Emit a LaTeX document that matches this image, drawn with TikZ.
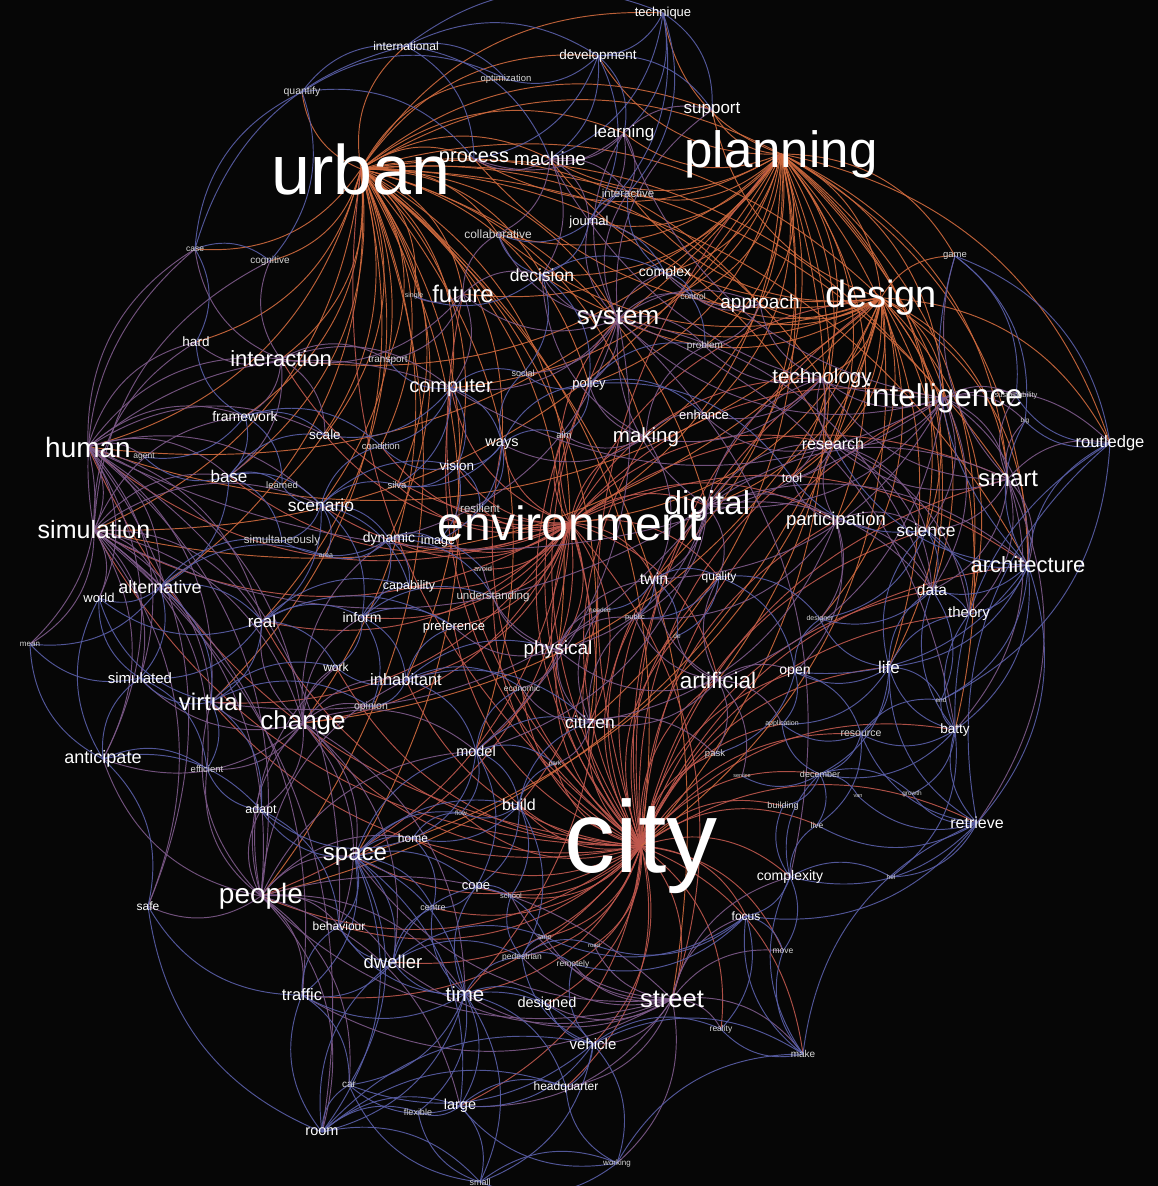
\documentclass[tikz,border=0pt]{standalone}
\usepackage{fontspec}
\setmainfont{Liberation Sans}

\definecolor{canvas}{HTML}{060606}
\definecolor{linkblue}{HTML}{5A5FA8}
\definecolor{linkviolet}{HTML}{7E5A8A}
\definecolor{linkred}{HTML}{C0584E}
\definecolor{linkorange}{HTML}{D06A3E}
\definecolor{wordgrey}{HTML}{D6D6D6}

\pgfdeclarelayer{links}
\pgfsetlayers{links,main}

\begin{document}
\begin{tikzpicture}[x=1pt, y=-1pt,
    kw/.style={font=\fontsize{#1}{#1}\selectfont, text=white, inner sep=0pt},
    kwdim/.style={font=\fontsize{#1}{#1}\selectfont, text=wordgrey, inner sep=0pt},
    lk/.style={line width=0.95pt, opacity=0.9, draw=#1},
]

\useasboundingbox (0,0) rectangle (1158,1186);
\begin{pgfonlayer}{links}
\fill[canvas] (0,0) rectangle (1158,1186);
\end{pgfonlayer}

% Top
\node[kw=13] (technique) at (663,13) {technique};
\node[kw=12] (international) at (406,46) {international};
\node[kw=13.5] (development) at (598,56) {development};
\node[kwdim=9.5] (optimization) at (506,79) {optimization};
\node[kwdim=10.5] (quantify) at (302,92) {quantify};
\node[kw=17] (support) at (712,110) {support};
\node[kw=17] (learning) at (624,133) {learning};
\node[kw=70] (urban) at (361,169) {urban};
\node[kw=20] (process) at (474,159) {process};
\node[kw=19] (machine) at (550,159) {machine};
\node[kw=51] (planning) at (781,154) {planning};
\node[kwdim=11.5] (interactive) at (628,193) {interactive};
\node[kw=13] (journal) at (589,222) {journal};
\node[kwdim=12] (collaborative) at (498,234) {collaborative};
\node[kwdim=8.5] (case) at (195,249) {case};
\node[kwdim=10] (cognitive) at (270,261) {cognitive};
\node[kwdim=9.5] (game) at (955,256) {game};

% Upper middle
\node[kw=17.5] (decision) at (542,275) {decision};
\node[kw=14] (complex) at (665,273) {complex};
\node[kwdim=7] (single) at (414,296) {single};
\node[kw=24] (future) at (463,294) {future};
\node[kwdim=8.5] (control) at (693,296) {control};
\node[kw=19] (approach) at (760,304) {approach};
\node[kw=38] (design) at (881,298) {design};
\node[kw=26] (system) at (618,319) {system};
\node[kw=13.5] (hard) at (196,342) {hard};
\node[kwdim=10] (problem) at (705,346) {problem};
\node[kw=22] (interaction) at (281,359) {interaction};
\node[kwdim=10] (transport) at (388,360) {transport};
\node[kwdim=9] (social) at (523,373) {social};
\node[kw=20.5] (technology) at (822,378) {technology};
\node[kw=20] (computer) at (451,388) {computer};
\node[kw=13] (policy) at (589,384) {policy};
\node[kw=31.5] (intelligence) at (944,398) {intelligence};
\node[kwdim=7.5] (sustainability) at (1016,396) {sustainability};
\node[kw=14] (framework) at (245,416) {framework};
\node[kw=13] (enhance) at (704,415) {enhance};
\node[kwdim=6.5] (big) at (1025,421) {big};

% Middle
\node[kw=28] (human) at (88,447) {human};
\node[kwdim=8.5] (agent) at (144,457) {agent};
\node[kw=13.5] (scale) at (325,435) {scale};
\node[kwdim=9.5] (condition) at (381,446) {condition};
\node[kw=14.5] (ways) at (502,444) {ways};
\node[kwdim=9.5] (aim) at (564,435) {aim};
\node[kw=20.5] (making) at (646,437) {making};
\node[kw=16] (research) at (833,444) {research};
\node[kw=16.5] (routledge) at (1110,443) {routledge};
\node[kw=17] (base) at (229,476) {base};
\node[kwdim=9.5] (learned) at (282,485) {learned};
\node[kwdim=9.5] (silva) at (397,485) {silva};
\node[kw=13.5] (vision) at (457,466) {vision};
\node[kw=12.5] (tool) at (792,478) {tool};
\node[kw=24] (smart) at (1008,479) {smart};
\node[kw=17.5] (scenario) at (321,505) {scenario};
\node[kwdim=11.5] (resilient) at (480,508) {resilient};
\node[kw=48] (environment) at (570,523) {environment};
\node[kw=33] (digital) at (707,506) {digital};
\node[kw=18.5] (participation) at (836,521) {participation};
\node[kw=17.5] (science) at (926,530) {science};
\node[kw=25] (simulation) at (94,530) {simulation};
\node[kwdim=11.5] (simultaneously) at (282,541) {simultaneously};
\node[kw=14] (dynamic) at (389,539) {dynamic};
\node[kw=12.5] (image) at (438,541) {image};
\node[kwdim=7] (area) at (326,556) {area};
\node[kw=22] (architecture) at (1028,565) {architecture};
\node[kwdim=7.5] (avoid) at (483,569) {avoid};
\node[kw=16] (twin) at (654,579) {twin};
\node[kw=12] (quality) at (719,577) {quality};
\node[kw=18] (alternative) at (160,587) {alternative};
\node[kw=13] (world) at (99,598) {world};
\node[kw=12.5] (capability) at (409,586) {capability};
\node[kwdim=11.5] (understanding) at (493,597) {understanding};
\node[kw=15.5] (data) at (932,590) {data};
\node[kwdim=6.5] (needed) at (600,610) {needed};
\node[kwdim=7.5] (public) at (635,618) {public};
\node[kwdim=7] (designer) at (820,619) {designer};
\node[kw=15] (theory) at (969,614) {theory};
\node[kw=17] (real) at (262,621) {real};
\node[kw=14] (inform) at (362,617) {inform};
\node[kw=13] (preference) at (454,627) {preference};
\node[kwdim=6.5] (de) at (677,636) {de};
\node[kwdim=8] (mean) at (30,644) {mean};
\node[kw=19] (physical) at (558,650) {physical};

% Lower middle
\node[kw=12] (work) at (336,667) {work};
\node[kw=15] (simulated) at (140,678) {simulated};
\node[kw=16.5] (inhabitant) at (406,680) {inhabitant};
\node[kw=14] (open) at (795,672) {open};
\node[kw=17] (life) at (889,667) {life};
\node[kw=22.5] (artificial) at (718,680) {artificial};
\node[kwdim=8.5] (economic) at (522,688) {economic};
\node[kw=24] (virtual) at (211,702) {virtual};
\node[kwdim=6.5] (end) at (941,700) {end};
\node[kwdim=10.5] (opinion) at (371,707) {opinion};
\node[kw=26] (change) at (303,723) {change};
\node[kw=17.5] (citizen) at (590,722) {citizen};
\node[kwdim=7] (application) at (782,724) {application};
\node[kwdim=10.5] (resource) at (861,734) {resource};
\node[kw=13.5] (batty) at (955,730) {batty};
\node[kw=14.5] (model) at (476,751) {model};
\node[kw=18] (anticipate) at (103,759) {anticipate};
\node[kwdim=9.5] (efficient) at (207,769) {efficient};
\node[kwdim=9.5] (pask) at (715,754) {pask};
\node[kwdim=6.5] (park) at (555,764) {park};
\node[kwdim=5.5] (service) at (742,776) {service};
\node[kwdim=9] (december) at (820,774) {december};
\node[kwdim=5.5] (van) at (858,796) {van};
\node[kwdim=6.5] (growth) at (912,794) {growth};
\node[kw=12.5] (adapt) at (261,810) {adapt};
\node[kw=16] (build) at (519,805) {build};
\node[kwdim=6.5] (flow) at (461,813) {flow};
\node[kwdim=9] (building) at (783,806) {building};
\node[kwdim=8.5] (live) at (817,825) {live};
\node[kw=16] (retrieve) at (977,823) {retrieve};
\node[kw=102] (city) at (641,846) {city};

% Bottom
\node[kw=12] (home) at (413,838) {home};
\node[kw=24] (space) at (355,857) {space};
\node[kw=14] (complexity) at (790,877) {complexity};
\node[kwdim=6.5] (hel) at (891,877) {hel};
\node[kw=13] (cope) at (476,887) {cope};
\node[kwdim=7.5] (school) at (511,896) {school};
\node[kw=28] (people) at (261,896) {people};
\node[kw=12] (safe) at (148,906) {safe};
\node[kwdim=9] (centre) at (433,908) {centre};
\node[kw=12] (focus) at (746,916) {focus};
\node[kw=12] (behaviour) at (339,926) {behaviour};
\node[kwdim=7] (lane) at (545,937) {lane};
\node[kwdim=6] (road) at (594,945) {road};
\node[kwdim=8.5] (move) at (783,951) {move};
\node[kwdim=8.5] (pedestrian) at (522,957) {pedestrian};
\node[kw=18.5] (dweller) at (393,962) {dweller};
\node[kwdim=8.5] (remotely) at (573,964) {remotely};
\node[kw=16.5] (traffic) at (302,995) {traffic};
\node[kw=20.5] (time) at (465,994) {time};
\node[kw=14.5] (designed) at (547,1004) {designed};
\node[kw=25.5] (street) at (672,999) {street};
\node[kwdim=8.5] (reality) at (721,1029) {reality};
\node[kw=15] (vehicle) at (593,1044) {vehicle};
\node[kwdim=10] (make) at (803,1054) {make};
\node[kwdim=10] (car) at (349,1085) {car};
\node[kw=12] (headquarter) at (566,1087) {headquarter};
\node[kwdim=9] (flexible) at (418,1112) {flexible};
\node[kw=14.5] (large) at (460,1106) {large};
\node[kw=14.5] (room) at (322,1132) {room};
\node[kwdim=8] (working) at (617,1163) {working};
\node[kwdim=9] (small) at (480,1182) {small};

% Links
\begin{pgfonlayer}{links}
\foreach \w in {international,quantify,optimization,process,machine,development,technique,%
learning,support,planning,case,cognitive,hard,interaction,collaborative,future,decision,%
system,computer,transport,single,framework,scale,base,human,simulation,environment,city,%
design,digital,intelligence,smart,people,change,space,virtual,real,scenario,ways,vision,%
making,research,architecture,technology,physical,citizen,inhabitant,street,dynamic,%
condition,learned,silva,alternative,model,policy,approach}
  \draw[lk=linkorange] (urban.center) to[bend left=30] (\w.center);
\foreach \w in {technique,development,support,learning,machine,process,interactive,journal,%
complex,approach,design,system,decision,future,intelligence,technology,research,smart,%
routledge,game,architecture,science,participation,digital,environment,city,tool,enhance,%
making,policy,problem,control,computer,interaction,data,theory,citizen,artificial,%
collaborative,human,simulation,batty,life,twin}
  \draw[lk=linkorange] (planning.center) to[bend left=30] (\w.center);
\foreach \w in {urban,planning,environment,digital,design,intelligence,smart,architecture,%
system,future,human,simulation,people,change,space,street,time,dweller,traffic,vehicle,%
build,model,citizen,physical,artificial,twin,quality,complexity,focus,move,reality,make,%
retrieve,building,live,december,application,resource,batty,life,open,pask,park,economic,%
flow,home,cope,school,centre,lane,road,pedestrian,remotely,designed,headquarter,large,%
behaviour,inhabitant,preference,understanding,public,needed,de,data,theory,research,%
participation,science,technology,making,ways,aim,policy,computer,virtual,real,work}
  \draw[lk=linkred] (city.center) to[bend left=30] (\w.center);
\foreach \w in {digital,design,system,human,simulation,interaction,computer,making,vision,%
ways,aim,resilient,image,dynamic,scenario,avoid,capability,understanding,twin,quality,%
physical,citizen,artificial,people,change,virtual,real,inform,preference,inhabitant,model,%
build,space,time,street,participation,research,smart,intelligence,technology,architecture,%
base,scale,condition,silva}
  \draw[lk=linkred] (environment.center) to[bend left=30] (\w.center);
\foreach \w in {game,approach,technology,intelligence,research,smart,routledge,architecture,%
science,participation,digital,city,environment,system,complex,control,process,machine,%
support,data,theory,life,tool,designer,people,space,change,human,simulation,collaborative,%
interactive,decision}
  \draw[lk=linkorange] (design.center) to[bend left=30] (\w.center);
\foreach \w in {artificial,smart,routledge,sustainability,big,architecture,science,data,%
technology,research,machine,learning,system,computer,human,twin,digital}
  \draw[lk=linkviolet] (intelligence.center) to[bend left=30] (\w.center);
\foreach \w in {twin,smart,technology,architecture,participation,physical,quality,model,%
data,system,virtual,simulation,tool,research,public}
  \draw[lk=linkviolet] (digital.center) to[bend left=30] (\w.center);
\foreach \w in {future,decision,complex,control,problem,policy,social,computer,approach,%
collaborative,journal,interactive,learning,support,model,dynamic,complexity,data,batty}
  \draw[lk=linkviolet] (system.center) to[bend left=30] (\w.center);
\foreach \w in {routledge,architecture,science,data,technology,game,big,sustainability,%
retrieve,batty,theory,research}
  \draw[lk=linkviolet] (smart.center) to[bend left=30] (\w.center);
\foreach \w in {routledge,theory,data,science,retrieve,batty,life,open,research,end,game,big}
  \draw[lk=linkblue] (architecture.center) to[bend left=30] (\w.center);
\foreach \w in {simulation,agent,framework,hard,case,interaction,base,world,alternative,%
mean,anticipate,simulated,virtual,change,people,behaviour,safe,computer,scale,real,scenario}
  \draw[lk=linkviolet] (human.center) to[bend left=30] (\w.center);
\foreach \w in {world,alternative,mean,simulated,anticipate,virtual,real,case,hard,%
cognitive,framework,base,scenario,efficient,people,change,room,traffic,safe}
  \draw[lk=linkviolet] (simulation.center) to[bend left=30] (\w.center);
\foreach \w in {space,change,safe,behaviour,dweller,traffic,time,virtual,anticipate,adapt,%
efficient,home,room,car,large,street,model,work,inhabitant}
  \draw[lk=linkviolet] (people.center) to[bend left=30] (\w.center);
\foreach \w in {virtual,space,real,simulated,anticipate,adapt,work,opinion,inhabitant,model,%
inform,dynamic,efficient,behaviour,time,dweller}
  \draw[lk=linkviolet] (change.center) to[bend left=30] (\w.center);
\foreach \w in {home,dweller,behaviour,cope,centre,time,traffic,adapt,flow,build,model,%
room,car,large}
  \draw[lk=linkblue] (space.center) to[bend left=30] (\w.center);
\foreach \w in {time,designed,vehicle,reality,make,move,focus,complexity,dweller,pedestrian,%
lane,road,remotely,traffic,people,space,headquarter,working,large,school}
  \draw[lk=linkviolet] (street.center) to[bend left=30] (\w.center);
\foreach \w in {dweller,designed,traffic,large,flexible,car,room,small,vehicle,pedestrian,%
cope,centre,headquarter,behaviour}
  \draw[lk=linkblue] (time.center) to[bend left=30] (\w.center);
\foreach \w in {headquarter,working,small,large,designed,car,make,reality,pedestrian,remotely}
  \draw[lk=linkblue] (vehicle.center) to[bend left=30] (\w.center);
\foreach \w in {car,flexible,large,small,traffic,safe,dweller,headquarter,vehicle}
  \draw[lk=linkblue] (room.center) to[bend left=30] (\w.center);
\foreach \w in {headquarter,make,small,large}
  \draw[lk=linkblue] (working.center) to[bend left=30] (\w.center);
\foreach \w in {reality,move,focus,complexity,retrieve}
  \draw[lk=linkblue] (make.center) to[bend left=30] (\w.center);
\foreach \w in {batty,hel,complexity,live,growth,van,life,resource,focus,routledge}
  \draw[lk=linkblue] (retrieve.center) to[bend left=30] (\w.center);
\foreach \w in {end,life,resource,theory,data,routledge,december,growth,hel}
  \draw[lk=linkblue] (batty.center) to[bend left=30] (\w.center);
\foreach \w in {focus,move,hel,december,building,live}
  \draw[lk=linkblue] (complexity.center) to[bend left=30] (\w.center);
\foreach \w in {open,resource,end,theory,data,designer,science,december,application}
  \draw[lk=linkblue] (life.center) to[bend left=30] (\w.center);
\foreach \w in {open,pask,application,service,citizen,twin,quality,de,public,physical}
  \draw[lk=linkviolet] (artificial.center) to[bend left=30] (\w.center);
\foreach \w in {research,tool,science,citizen,public,open,designer,data}
  \draw[lk=linkviolet] (participation.center) to[bend left=30] (\w.center);
\foreach \w in {tool,technology,science,data,theory,enhance}
  \draw[lk=linkviolet] (research.center) to[bend left=30] (\w.center);
\foreach \w in {approach,enhance,making,problem,tool}
  \draw[lk=linkviolet] (technology.center) to[bend left=30] (\w.center);
\foreach \w in {decision,enhance,policy,aim,ways,twin,problem}
  \draw[lk=linkviolet] (making.center) to[bend left=30] (\w.center);
\foreach \w in {complex,control,problem}
  \draw[lk=linkviolet] (approach.center) to[bend left=30] (\w.center);
\foreach \w in {single,decision,computer,transport,collaborative,interaction}
  \draw[lk=linkviolet] (future.center) to[bend left=30] (\w.center);
\foreach \w in {hard,cognitive,case,framework,transport,computer,scale,base}
  \draw[lk=linkviolet] (interaction.center) to[bend left=30] (\w.center);
\foreach \w in {transport,social,vision,ways,scale,condition,silva}
  \draw[lk=linkblue] (computer.center) to[bend left=30] (\w.center);
\foreach \w in {aim,vision,policy,social,silva,resilient,image}
  \draw[lk=linkblue] (ways.center) to[bend left=30] (\w.center);
\foreach \w in {social,aim,enhance,problem,tool}
  \draw[lk=linkblue] (policy.center) to[bend left=30] (\w.center);
\foreach \w in {silva,resilient,condition,image}
  \draw[lk=linkblue] (vision.center) to[bend left=30] (\w.center);
\foreach \w in {hard,scale,base,learned,agent,condition}
  \draw[lk=linkblue] (framework.center) to[bend left=30] (\w.center);
\foreach \w in {learned,scenario,scale,agent,simultaneously,alternative}
  \draw[lk=linkblue] (base.center) to[bend left=30] (\w.center);
\foreach \w in {silva,simultaneously,dynamic,area,capability,real,inform,learned,condition,vision}
  \draw[lk=linkblue] (scenario.center) to[bend left=30] (\w.center);
\foreach \w in {image,area,capability,avoid,understanding,inform,simultaneously}
  \draw[lk=linkblue] (dynamic.center) to[bend left=30] (\w.center);
\foreach \w in {world,real,simulated,mean,virtual,simultaneously,area}
  \draw[lk=linkblue] (alternative.center) to[bend left=30] (\w.center);
\foreach \w in {inform,work,virtual,simulated,capability,preference,world}
  \draw[lk=linkblue] (real.center) to[bend left=30] (\w.center);
\foreach \w in {preference,capability,work,opinion,inhabitant,understanding}
  \draw[lk=linkblue] (inform.center) to[bend left=30] (\w.center);
\foreach \w in {opinion,work,model,preference,economic,citizen,physical}
  \draw[lk=linkblue] (inhabitant.center) to[bend left=30] (\w.center);
\foreach \w in {build,flow,park,economic,citizen,home,cope}
  \draw[lk=linkblue] (model.center) to[bend left=30] (\w.center);
\foreach \w in {flow,home,cope,school,citizen,park,pedestrian}
  \draw[lk=linkblue] (build.center) to[bend left=30] (\w.center);
\foreach \w in {physical,economic,park,pask,public,needed}
  \draw[lk=linkviolet] (citizen.center) to[bend left=30] (\w.center);
\foreach \w in {understanding,preference,economic,avoid,needed,twin,public}
  \draw[lk=linkviolet] (physical.center) to[bend left=30] (\w.center);
\foreach \w in {quality,needed,public,de}
  \draw[lk=linkblue] (twin.center) to[bend left=30] (\w.center);
\foreach \w in {de,designer,open,public}
  \draw[lk=linkblue] (quality.center) to[bend left=30] (\w.center);
\foreach \w in {resource,application,designer,pask}
  \draw[lk=linkblue] (open.center) to[bend left=30] (\w.center);
\foreach \w in {application,december,end,live}
  \draw[lk=linkblue] (resource.center) to[bend left=30] (\w.center);
\foreach \w in {behaviour,pedestrian,centre,cope,traffic,lane}
  \draw[lk=linkblue] (dweller.center) to[bend left=30] (\w.center);
\foreach \w in {behaviour,car,safe}
  \draw[lk=linkblue] (traffic.center) to[bend left=30] (\w.center);
\foreach \w in {flexible,headquarter,small,car}
  \draw[lk=linkblue] (large.center) to[bend left=30] (\w.center);
\foreach \w in {efficient,world,simulated,adapt,mean,safe}
  \draw[lk=linkblue] (anticipate.center) to[bend left=30] (\w.center);
\foreach \w in {simulated,efficient,adapt,world,opinion,work}
  \draw[lk=linkblue] (virtual.center) to[bend left=30] (\w.center);
\foreach \w in {world,mean,efficient}
  \draw[lk=linkblue] (simulated.center) to[bend left=30] (\w.center);
\foreach \w in {cognitive,hard,quantify,international}
  \draw[lk=linkblue] (case.center) to[bend left=30] (\w.center);
\foreach \w in {international,optimization,cognitive,process}
  \draw[lk=linkblue] (quantify.center) to[bend left=30] (\w.center);
\foreach \w in {optimization,development,process,machine,technique}
  \draw[lk=linkblue] (international.center) to[bend left=30] (\w.center);
\foreach \w in {development,support,learning,machine,interactive,journal}
  \draw[lk=linkblue] (technique.center) to[bend left=30] (\w.center);
\foreach \w in {optimization,learning,support,machine,process,journal}
  \draw[lk=linkblue] (development.center) to[bend left=30] (\w.center);
\foreach \w in {machine,support,interactive,process,journal}
  \draw[lk=linkviolet] (learning.center) to[bend left=30] (\w.center);
\foreach \w in {process,interactive,journal,collaborative,decision}
  \draw[lk=linkviolet] (machine.center) to[bend left=30] (\w.center);
\foreach \w in {collaborative,decision,complex,interactive}
  \draw[lk=linkblue] (journal.center) to[bend left=30] (\w.center);
\foreach \w in {complex,collaborative,single,social,policy}
  \draw[lk=linkblue] (decision.center) to[bend left=30] (\w.center);
\foreach \w in {control,problem,interactive}
  \draw[lk=linkblue] (complex.center) to[bend left=30] (\w.center);
\foreach \w in {routledge,sustainability,big}
  \draw[lk=linkblue] (game.center) to[bend left=30] (\w.center);
\foreach \w in {sustainability,big,end}
  \draw[lk=linkblue] (routledge.center) to[bend left=30] (\w.center);
\foreach \w in {data,theory,designer,tool}
  \draw[lk=linkblue] (science.center) to[bend left=30] (\w.center);
\foreach \w in {theory,designer,end}
  \draw[lk=linkblue] (data.center) to[bend left=30] (\w.center);
\foreach \w in {van,growth,building,live,service,application}
  \draw[lk=linkblue] (december.center) to[bend left=30] (\w.center);
\foreach \w in {move,reality,lane,road,remotely}
  \draw[lk=linkblue] (focus.center) to[bend left=30] (\w.center);
\foreach \w in {lane,road,remotely,school}
  \draw[lk=linkblue] (pedestrian.center) to[bend left=30] (\w.center);
\foreach \w in {school,centre,lane}
  \draw[lk=linkblue] (cope.center) to[bend left=30] (\w.center);
\foreach \w in {centre,flow,adapt}
  \draw[lk=linkblue] (home.center) to[bend left=30] (\w.center);
\foreach \w in {efficient,behaviour}
  \draw[lk=linkblue] (adapt.center) to[bend left=30] (\w.center);
\foreach \w in {flexible,working,car}
  \draw[lk=linkblue] (small.center) to[bend left=30] (\w.center);
\end{pgfonlayer}

\end{tikzpicture}
\end{document}
